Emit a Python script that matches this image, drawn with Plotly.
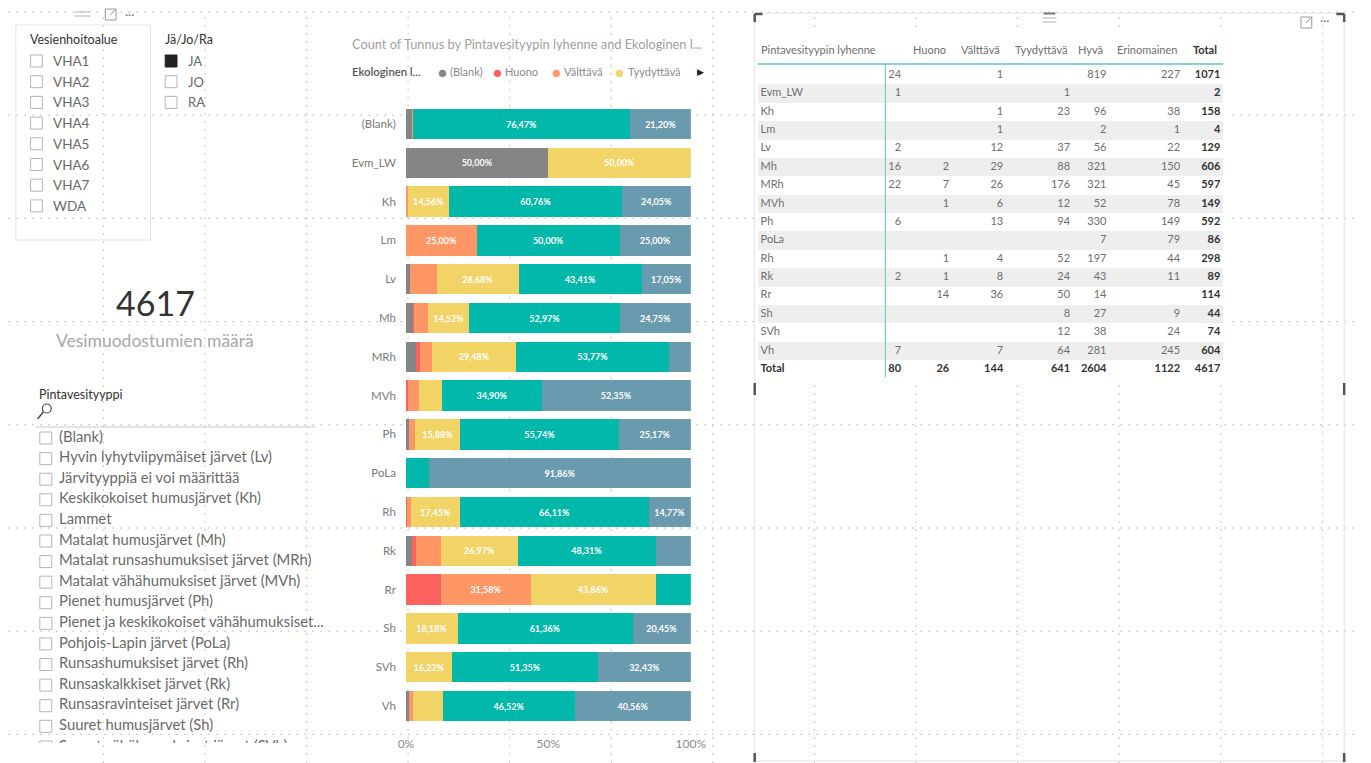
import plotly.graph_objects as go

W, H = 1371, 763
FONT = "Lato, 'Noto Sans', sans-serif"

# ---------------- data ----------------
categories = ["(Blank)", "Evm_LW", "Kh", "Lm", "Lv", "Mh", "MRh", "MVh", "Ph",
              "PoLa", "Rh", "Rk", "Rr", "Sh", "SVh", "Vh"]
table_labels = ["", "Evm_LW", "Kh", "Lm", "Lv", "Mh", "MRh", "MVh", "Ph",
                "PoLa", "Rh", "Rk", "Rr", "Sh", "SVh", "Vh"]
status_names = ["(Blank)", "Huono", "Välttävä", "Tyydyttävä", "Hyvä", "Erinomainen"]
blank_counts = [24, 1, None, None, 2, 16, 22, None, 6, None, None, 2, None, None, None, 7]
huono_counts = [None, None, None, None, None, 2, 7, 1, None, None, 1, 1, 14, None, None, None]
valttava_counts = [1, None, 1, 1, 12, 29, 26, 6, 13, None, 4, 8, 36, None, None, 7]
tyydyttava_counts = [None, 1, 23, None, 37, 88, 176, 12, 94, None, 52, 24, 50, 8, 12, 64]
hyva_counts = [819, None, 96, 2, 56, 321, 321, 52, 330, 7, 197, 43, 14, 27, 38, 281]
erinomainen_counts = [227, None, 38, 1, 22, 150, 45, 78, 149, 79, 44, 11, None, 9, 24, 245]
status_colors = ["#858585", "#FD625E", "#FE9666", "#F2D366", "#01B8AA", "#6A9AAD"]

vha_items = ["VHA1", "VHA2", "VHA3", "VHA4", "VHA5", "VHA6", "VHA7", "WDA"]
jjr_items = ["JA", "JO", "RA"]
jjr_selected = ["JA"]
type_items = ["(Blank)", "Hyvin lyhytviipymäiset järvet (Lv)", "Järvityyppiä ei voi määrittää",
              "Keskikokoiset humusjärvet (Kh)", "Lammet", "Matalat humusjärvet (Mh)",
              "Matalat runsashumuksiset järvet (MRh)", "Matalat vähähumuksiset järvet (MVh)",
              "Pienet humusjärvet (Ph)", "Pienet ja keskikokoiset vähähumuksiset...",
              "Pohjois-Lapin järvet (PoLa)", "Runsashumuksiset järvet (Rh)",
              "Runsaskalkkiset järvet (Rk)", "Runsasravinteiset järvet (Rr)",
              "Suuret humusjärvet (Sh)", "Suuret vähähumuksiset järvet (SVh)"]
card_value = 4617
card_label = "Vesimuodostumien määrä"
chart_title = "Count of Tunnus by Pintavesityypin lyhenne and Ekologinen l..."
legend_title = "Ekologinen l..."
legend_shown = 4
label_min_pct = 14
table_header_first = "Pintavesityypin lyhenne"


def X(px):
    return px / W


def Y(py):
    return 1 - py / H


fig = go.Figure()
shapes = []
annotations = []


def text_ann(x, y, text, size, color, anchor="left", weight=None):
    f = dict(size=size, color=color, family=FONT)
    if weight:
        f["weight"] = weight
    annotations.append(dict(x=X(x), y=Y(y), xref="paper", yref="paper", text=text, showarrow=False,
                            xanchor=anchor, yanchor="middle", font=f, borderpad=0))


# ---------------- canvas dotted grid ----------------
grid_x = [97 + 103.4 * i for i in range(13)]
grid_y = [12 + 103.2 * i for i in range(8)]
for gx in grid_x:
    shapes.append(dict(type="line", xref="paper", yref="paper", x0=X(gx), x1=X(gx), y0=0, y1=Y(12),
                       line=dict(color="#c4c4c4", width=1, dash="2px,6px"), layer="below"))
for gy in grid_y:
    shapes.append(dict(type="line", xref="paper", yref="paper", x0=0, x1=1, y0=Y(gy), y1=Y(gy),
                       line=dict(color="#c4c4c4", width=1, dash="2px,6px"), layer="below"))
# table body hides the canvas grid
shapes.append(dict(type="rect", xref="paper", yref="paper", x0=X(761), x1=X(1240), y0=Y(380), y1=Y(30),
                   line=dict(width=0), fillcolor="white", layer="below"))

# ---------------- stacked 100% bar chart ----------------
series = [blank_counts, huono_counts, valttava_counts, tyydyttava_counts, hyva_counts, erinomainen_counts]
totals = [sum(v or 0 for v in row) for row in zip(*series)]
for name, vals, col in zip(status_names, series, status_colors):
    pct = [100.0 * (v or 0) / t for v, t in zip(vals, totals)]
    txt = [(f"{p:.2f}".replace(".", ",") + "%") if p >= label_min_pct else "" for p in pct]
    fig.add_trace(go.Bar(
        y=categories, x=pct, orientation="h", name=name,
        marker=dict(color=col, line=dict(width=0)),
        text=txt, textposition="inside", insidetextanchor="middle", textangle=0,
        textfont=dict(color="white", size=9, family=FONT, weight="bold"),
        showlegend=False, hoverinfo="skip", xaxis="x", yaxis="y"))

# ---------------- slicer list (clipped) ----------------
fig.add_trace(go.Scatter(
    x=[38.5] * len(type_items), y=type_items, mode="markers",
    marker=dict(symbol="square-open", size=12, color="#b5b5b5", line=dict(width=1)),
    showlegend=False, hoverinfo="skip", xaxis="x3", yaxis="y3", cliponaxis=True))
fig.add_trace(go.Scatter(
    x=[52] * len(type_items), y=type_items, mode="text", text=type_items,
    textposition="middle right", marker=dict(size=1),
    textfont=dict(size=14.8, color="#6a6a6a", family=FONT),
    showlegend=False, hoverinfo="skip", xaxis="x3", yaxis="y3", cliponaxis=True))

# ---------------- matrix table (drawn on its own axes) ----------------
n = len(categories)
row_keys = categories + ["Total"]
row_labels = table_labels + ["<b>Total</b>"]
shaded_rows = [k for i, k in enumerate(row_keys) if i % 2 == 1 and i < n]
fig.add_trace(go.Bar(
    y=shaded_rows, x=[474] * len(shaded_rows), base=763, orientation="h", width=1.0,
    marker=dict(color="#eeeeee", line=dict(width=0)), showlegend=False, hoverinfo="skip",
    xaxis="x4", yaxis="y4"))
fig.add_trace(go.Scatter(
    x=[766] * len(row_keys), y=row_keys, mode="text", text=row_labels, textposition="middle right",
    marker=dict(size=1), textfont=dict(size=11, color=["#6e6e6e"] * n + ["#333333"], family=FONT),
    showlegend=False, hoverinfo="skip", xaxis="x4", yaxis="y4", cliponaxis=False))
col_right = [909, 958, 1013, 1081, 1118, 1193, 1234]
col_header = [""] + status_names[1:] + ["<b>Total</b>"]
col_values = []
for c in series:
    vals = [("" if v is None else str(v)) for v in c]
    vals.append("<b>" + str(sum(v or 0 for v in c)) + "</b>")
    col_values.append(vals)
col_values.append(["<b>" + str(t) + "</b>" for t in totals] + ["<b>" + str(sum(totals)) + "</b>"])
for j, (xr, vals) in enumerate(zip(col_right, col_values)):
    is_total = j == len(col_values) - 1
    colors = ["#333333"] * (n + 1) if is_total else ["#6e6e6e"] * n + ["#333333"]
    fig.add_trace(go.Scatter(
        x=[xr] * len(row_keys), y=row_keys, mode="text", text=vals, textposition="middle left",
        marker=dict(size=1), textfont=dict(size=11, color=colors, family=FONT),
        showlegend=False, hoverinfo="skip", xaxis="x4", yaxis="y4", cliponaxis=False))
text_ann(765, 49, table_header_first, 11, "#6e6e6e")
for xr, h in zip(col_right, col_header):
    if h:
        text_ann(xr - 2, 49, h, 11, "#333333" if "Total" in h else "#6e6e6e", anchor="right")

# table decorations
teal = "#5cc6bd"
shapes.append(dict(type="line", xref="paper", yref="paper", x0=X(763), x1=X(1237), y0=Y(64), y1=Y(64),
                   line=dict(color=teal, width=1.5), layer="above"))
shapes.append(dict(type="line", xref="paper", yref="paper", x0=X(893), x1=X(893), y0=Y(64), y1=Y(377),
                   line=dict(color=teal, width=1), layer="above"))
shapes.append(dict(type="rect", xref="paper", yref="paper", x0=X(760), x1=X(1360), y0=Y(761), y1=Y(13),
                   line=dict(color="#e2e2e2", width=1), layer="below"))
for (x0, x1, y0, y1) in [(760, 768, 14, 14), (760, 760, 14, 22), (1352, 1360, 14, 14), (1360, 1360, 14, 22),
                         (760, 760, 383, 395), (1360, 1360, 383, 395), (760, 760, 753, 762), (1360, 1360, 753, 762)]:
    shapes.append(dict(type="line", xref="paper", yref="paper", x0=X(x0), x1=X(x1), y0=Y(y0), y1=Y(y1),
                       line=dict(color="#555555", width=2.5), layer="above"))
for yy in (18, 22):
    shapes.append(dict(type="line", xref="paper", yref="paper", x0=X(1053), x1=X(1067), y0=Y(yy), y1=Y(yy),
                       line=dict(color="#bdbdbd", width=1.2)))
shapes.append(dict(type="line", xref="paper", yref="paper", x0=X(1054), x1=X(1066), y0=Y(13.5), y1=Y(13.5),
                   line=dict(color="#777777", width=2)))
shapes.append(dict(type="rect", xref="paper", yref="paper", x0=X(1316), x1=X(1327), y0=Y(28), y1=Y(17),
                   line=dict(color="#9a9a9a", width=1)))
shapes.append(dict(type="line", xref="paper", yref="paper", x0=X(1321), x1=X(1327), y0=Y(23), y1=Y(17),
                   line=dict(color="#9a9a9a", width=1)))
text_ann(1334, 20, "···", 12, "#777")

# ---------------- slicer 1: Vesienhoitoalue ----------------
shapes.append(dict(type="rect", xref="paper", yref="paper", x0=X(8), x1=X(145), y0=Y(240), y1=Y(25),
                   line=dict(color="#e4e4e4", width=1), layer="below"))
for yy in (12, 16):
    shapes.append(dict(type="line", xref="paper", yref="paper", x0=X(68), x1=X(84), y0=Y(yy), y1=Y(yy),
                       line=dict(color="#bdbdbd", width=1.2)))
shapes.append(dict(type="rect", xref="paper", yref="paper", x0=X(99), x1=X(110), y0=Y(20), y1=Y(9),
                   line=dict(color="#9a9a9a", width=1)))
shapes.append(dict(type="line", xref="paper", yref="paper", x0=X(104), x1=X(110), y0=Y(15), y1=Y(9),
                   line=dict(color="#9a9a9a", width=1)))
text_ann(118, 14, "···", 12, "#777")
text_ann(21, 40, "Vesienhoitoalue", 12.5, "#333")
for i, item in enumerate(vha_items):
    yc = 61 + 20.7 * i
    shapes.append(dict(type="rect", xref="paper", yref="paper", x0=X(23), x1=X(35), y0=Y(yc + 6), y1=Y(yc - 6),
                       line=dict(color="#b5b5b5", width=1)))
    text_ann(45, yc, item, 13.5, "#6a6a6a")

# ---------------- slicer 2: Jä/Jo/Ra ----------------
text_ann(159, 40, "Jä/Jo/Ra", 12.5, "#333")
for i, item in enumerate(jjr_items):
    yc = 61 + 20.7 * i
    sel = item in jjr_selected
    shapes.append(dict(type="rect", xref="paper", yref="paper", x0=X(160), x1=X(172), y0=Y(yc + 6), y1=Y(yc - 6),
                       line=dict(color="#222" if sel else "#b5b5b5", width=1),
                       fillcolor="#222" if sel else "rgba(0,0,0,0)"))
    text_ann(182, yc, item, 13, "#6a6a6a")

# ---------------- card ----------------
text_ann(150, 302, str(card_value), 34, "#333", anchor="center")
text_ann(150, 340, card_label, 17.5, "#a8a8a8", anchor="center")

# ---------------- slicer 3: Pintavesityyppi ----------------
text_ann(31, 394, "Pintavesityyppi", 12.5, "#333")
shapes.append(dict(type="circle", xref="paper", yref="paper", x0=X(35), x1=X(44), y0=Y(413), y1=Y(404),
                   line=dict(color="#444", width=1.2)))
shapes.append(dict(type="line", xref="paper", yref="paper", x0=X(36), x1=X(30), y0=Y(412), y1=Y(419),
                   line=dict(color="#444", width=1.4)))
shapes.append(dict(type="line", xref="paper", yref="paper", x0=X(28), x1=X(313), y0=Y(427), y1=Y(427),
                   line=dict(color="#c8c8c8", width=1)))

# ---------------- chart title + legend ----------------
text_ann(349, 44, chart_title, 12.8, "#a0a0a0")
text_ann(349, 72, legend_title, 11.3, "#555", weight=600)
leg_circle = [442, 498, 558, 622]
leg_text = [449, 505, 565, 630]
for cx, tx, name, col in zip(leg_circle, leg_text, status_names[:legend_shown], status_colors[:legend_shown]):
    text_ann(cx, 71.5, "●", 15, col, anchor="center")
    text_ann(tx, 72, name, 11, "#8a8a8a")
text_ann(705, 72, "▶", 9, "#222", anchor="center")

axis_hidden = dict(visible=False, showgrid=False, zeroline=False, fixedrange=True)
fig.update_layout(
    width=W, height=H, margin=dict(l=0, r=0, t=0, b=0),
    paper_bgcolor="white", plot_bgcolor="rgba(0,0,0,0)",
    barmode="stack", bargap=0.22,
    uniformtext=dict(minsize=9, mode="show"),
    font=dict(family=FONT),
    xaxis=dict(domain=[X(405), X(695)], range=[0, 100], tickvals=[0, 50, 100], ticktext=["0%", "50%", "100%"],
               showgrid=False, zeroline=False, showline=False, ticks="", anchor="y",
               tickfont=dict(size=12, color="#8a8a8a", family=FONT), ticklabelstandoff=10, fixedrange=True),
    yaxis=dict(domain=[Y(725.4), Y(104.6)], categoryorder="array", categoryarray=categories,
               autorange="reversed", showgrid=False, zeroline=False, showline=False, ticks="", anchor="x",
               tickfont=dict(size=11.5, color="#7a7a7a", family=FONT), ticklabelstandoff=9, fixedrange=True),
    xaxis3=dict(domain=[X(25), X(330)], range=[25, 330], anchor="y3", **axis_hidden),
    yaxis3=dict(domain=[Y(743), Y(430)], range=[14.81, -0.39], anchor="x3",
                categoryorder="array", categoryarray=type_items, **axis_hidden),
    xaxis4=dict(domain=[X(760), X(1241)], range=[760, 1241], anchor="y4", **axis_hidden),
    yaxis4=dict(domain=[Y(378.4), Y(66)], range=[16.5, -0.5], anchor="x4",
                categoryorder="array", categoryarray=row_keys, **axis_hidden),
    shapes=shapes, annotations=annotations,
)

fig.write_html("out.html", config={"displayModeBar": False},
               post_script="document.body.style.margin='0';document.body.style.overflow='hidden';")
